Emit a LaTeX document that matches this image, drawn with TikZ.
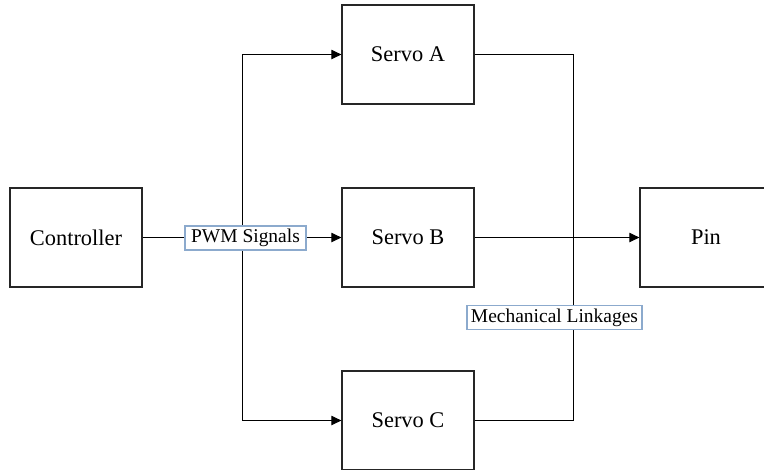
\documentclass[tikz,border=0pt]{standalone}
\usepackage{fontspec}
\setmainfont{Liberation Serif}
\usetikzlibrary{arrows.meta}
\definecolor{labelframe}{RGB}{140,170,205}
\tikzset{
  block/.style={draw=black!85, line width=0.9pt, fill=white, minimum width=99pt, minimum height=74.25pt, inner sep=0pt, font=\fontsize{16.8}{18}\selectfont},
  tag/.style={draw=labelframe, line width=0.8pt, fill=white, inner sep=0pt, minimum height=18pt, font=\fontsize{14.6}{16}\selectfont},
  wire/.style={line width=0.75pt, black},
  feed/.style={wire, -{Triangle[length=7.5pt,width=7pt]}}
}
\begin{document}
\begin{tikzpicture}[x=0.75pt, y=-0.75pt]
\useasboundingbox (0,0) rectangle (764,469);

% blocks
\node[block] (ctrl) at (76,237.5) {Controller};
\node[block] (sa) at (408,54.5) {Servo A};
\node[block] (sb) at (408,237.5) {Servo B};
\node[block] (sc) at (408,420.5) {Servo C};
\node[block] (pin) at (706,237.5) {Pin};

% branching points of the two buses
\coordinate (split) at (242,237.5);
\coordinate (merge) at (573,237.5);

% control signals
\draw[feed] (ctrl.east) -- (sb.west);
\draw[feed] (split) |- (sa.west);
\draw[feed] (split) |- (sc.west);

% mechanical side
\draw[wire] (sa.east) -| (merge);
\draw[wire] (sc.east) -| (merge);
\draw[feed] (sb.east) -- (pin.west);

% labels on the lines
\node[tag, minimum width=90.75pt] (pwm) at (245.5,238) {PWM Signals};
\node[tag, minimum width=131.25pt] (mech) at (554.5,317.5) {Mechanical Linkages};
\end{tikzpicture}
\end{document}
